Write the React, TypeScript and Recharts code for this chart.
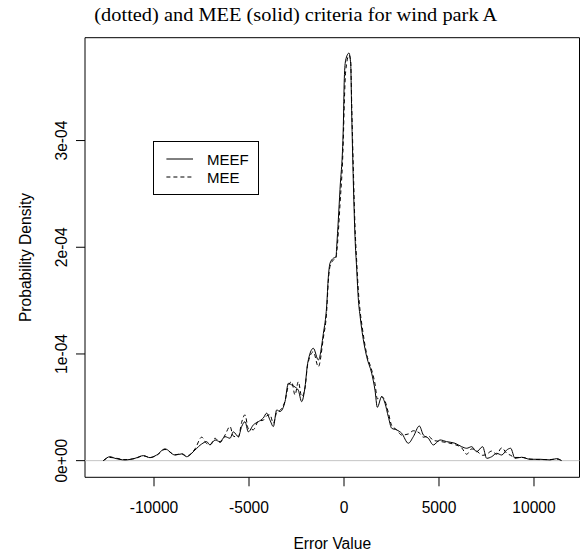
import React from 'react';
import { LineChart, Line, XAxis, YAxis, ReferenceLine, ReferenceArea, Legend } from 'recharts';

// Error value grid (x) shared by both density estimates
const errorValues = [
  -12668, -12316, -12053, -11526, -11000, -10561, -10210, -9860, -9421, -8895,
  -8544, -8280, -7842, -7491, -7228, -7053, -6789, -6526, -6263, -6000,
  -5825, -5561, -5386, -5210, -5035, -4772, -4509, -4246, -4070, -3895,
  -3719, -3544, -3368, -3105, -2930, -2754, -2579, -2404, -2228, -2053,
  -1912, -1614, -1351, -1088, -912, -825, -737, -563, -421, -384,
  -211, -37, 16, 89, 263, 351, 405, 490, 579, 667,
  760, 850, 960, 1193, 1456, 1632, 1754, 1982, 2158, 2333,
  2509, 2772, 3035, 3386, 3649, 3965, 4175, 4439, 4702, 5053,
  5404, 5842, 6193, 6456, 6719, 6982, 7298, 7509, 7772, 8035,
  8298, 8561, 8772, 9000, 9351, 9789, 10316, 10842, 11193, 11456,
];

// MEEF (solid) density, in units of 1e-04
const meefDensityE4 = [
  0, 0.037, 0.022, 0.007, 0.022, 0.047, 0.028, 0.053, 0.11, 0.053,
  0.063, 0.037, 0.1, 0.156, 0.178, 0.147, 0.194, 0.178, 0.225, 0.21,
  0.27, 0.225, 0.32, 0.365, 0.27, 0.335, 0.365, 0.4, 0.445, 0.38,
  0.32, 0.475, 0.46, 0.553, 0.725, 0.71, 0.69, 0.66, 0.553, 0.69,
  0.913, 1.053, 0.944, 1.19, 1.45, 1.72, 1.85, 1.897, 1.91, 2.006,
  2.54, 3.13, 3.58, 3.755, 3.82, 3.72, 3.256, 2.62, 2.1, 1.8,
  1.5, 1.35, 1.2, 0.975, 0.82, 0.66, 0.5, 0.6, 0.538, 0.412,
  0.304, 0.288, 0.257, 0.163, 0.225, 0.325, 0.241, 0.21, 0.147, 0.194,
  0.178, 0.163, 0.131, 0.116, 0.131, 0.084, 0.131, 0.022, 0.037, 0.069,
  0.053, 0.1, 0.116, 0.022, 0.032, 0.013, 0.013, 0.007, 0.019, 0,
];

// MEE (dashed) density, in units of 1e-04
const meeDensityE4 = [
  0, 0.03, 0.025, 0.01, 0.02, 0.045, 0.03, 0.05, 0.105, 0.055,
  0.065, 0.045, 0.11, 0.22, 0.16, 0.15, 0.21, 0.17, 0.24, 0.32,
  0.23, 0.22, 0.36, 0.43, 0.3, 0.29, 0.37, 0.38, 0.42, 0.43,
  0.35, 0.45, 0.47, 0.56, 0.7, 0.74, 0.616, 0.74, 0.6, 0.68,
  0.9, 1.02, 0.88, 1.15, 1.4, 1.68, 1.82, 1.88, 1.9, 1.95,
  2.4, 3.0, 3.35, 3.65, 3.8, 3.75, 3.35, 2.75, 2.2, 1.87,
  1.58, 1.4, 1.25, 1.0, 0.85, 0.72, 0.58, 0.6, 0.56, 0.45,
  0.33, 0.29, 0.24, 0.25, 0.28, 0.26, 0.22, 0.23, 0.19, 0.18,
  0.17, 0.15, 0.12, 0.06, 0.11, 0.09, 0.05, 0.06, 0.09, 0.06,
  0.12, 0.07, 0.05, 0.03, 0.03, 0.015, 0.01, 0.01, 0.015, 0,
];

const xTicks = [-10000, -5000, 0, 5000, 10000];
const yTicks = [0, 1e-4, 2e-4, 3e-4];
const yTickLabels = ['0e+00', '1e-04', '2e-04', '3e-04'];
const seriesNames = ['MEEF', 'MEE'];
const titleText = '(dotted) and MEE (solid) criteria for wind park A';
const xAxisTitle = 'Error Value';
const yAxisTitle = 'Probability Density';

const W = 581;
const H = 554;
const X_DOMAIN: [number, number] = [-13632, 12395];
const Y_DOMAIN: [number, number] = [-0.156e-4, 3.964e-4];
const SANS = '"Liberation Sans", Arial, Helvetica, sans-serif';
const SERIF = '"Liberation Serif", "Times New Roman", serif';
const FS = 15.6;

const XTick = (props: any) => {
  const { x, y, payload } = props;
  return (
    <text x={x} y={y + 25} textAnchor="middle" fontFamily={SANS} fontSize={FS} fill="#000">
      {String(payload.value)}
    </text>
  );
};

const YTick = (props: any) => {
  const { x, y, payload } = props;
  const idx = yTicks.findIndex((t) => Math.abs(t - payload.value) < 1e-9);
  const lx = x - 7;
  return (
    <text
      x={lx}
      y={y}
      transform={`rotate(-90 ${lx} ${y})`}
      textAnchor="middle"
      fontFamily={SANS}
      fontSize={FS}
      fill="#000"
    >
      {idx >= 0 ? yTickLabels[idx] : ''}
    </text>
  );
};

const XLabel = (props: any) => {
  const vb = props.viewBox || { x: 85, y: 477.3, width: 494.5, height: 76.7 };
  const bottomEdge = vb.height > 200 ? vb.y + vb.height : vb.y;
  const cx = vb.x + vb.width / 2;
  return (
    <text x={cx} y={bottomEdge + 71.5} textAnchor="middle" fontFamily={SANS} fontSize={FS} fill="#000">
      {xAxisTitle}
    </text>
  );
};

const YLabel = (props: any) => {
  const vb = props.viewBox || { x: 0, y: 37.7, width: 85, height: 439.6 };
  const leftEdge = vb.width > 200 ? vb.x - 85 : vb.x;
  const lx = leftEdge + 30.5;
  const ly = vb.y + vb.height / 2;
  return (
    <text
      x={lx}
      y={ly}
      transform={`rotate(-90 ${lx} ${ly})`}
      textAnchor="middle"
      fontFamily={SANS}
      fontSize={FS}
      fill="#000"
    >
      {yAxisTitle}
    </text>
  );
};

const LegendBox = () => (
  <svg width={106} height={54} style={{ display: 'block' }}>
    <rect x={0.5} y={0.5} width={105} height={53} fill="#fff" stroke="#000" strokeWidth={1} />
    <line x1={13.4} x2={40} y1={18} y2={18} stroke="#000" strokeWidth={1} />
    <line x1={13.4} x2={40} y1={36} y2={36} stroke="#000" strokeWidth={1} strokeDasharray="4 3" />
    <text x={54} y={18} dominantBaseline="central" fontFamily={SANS} fontSize={15} fill="#000">
      {seriesNames[0]}
    </text>
    <text x={54} y={36} dominantBaseline="central" fontFamily={SANS} fontSize={15} fill="#000">
      {seriesNames[1]}
    </text>
  </svg>
);

export default function App() {
  const meefData = errorValues.map((x, i) => ({ x, y: meefDensityE4[i] * 1e-4 }));
  const meeData = errorValues.map((x, i) => ({ x, y: meeDensityE4[i] * 1e-4 }));

  return (
    <div
      style={{
        position: 'absolute',
        left: 0,
        top: 0,
        width: W,
        height: H,
        overflow: 'hidden',
        background: '#fff',
      }}
    >
      <LineChart width={W} height={H} margin={{ top: 37.7, right: 1.5, bottom: 0, left: 0 }}>
        <XAxis
          type="number"
          dataKey="x"
          domain={X_DOMAIN}
          allowDataOverflow
          ticks={xTicks}
          interval={0}
          height={76.7}
          axisLine={false}
          stroke="#000"
          tickSize={9}
          tickLine={{ stroke: '#000' }}
          tick={<XTick />}
          label={{ content: XLabel }}
        />
        <YAxis
          type="number"
          dataKey="y"
          domain={Y_DOMAIN}
          allowDataOverflow
          ticks={yTicks}
          interval={0}
          width={85}
          axisLine={false}
          stroke="#000"
          tickSize={9}
          tickLine={{ stroke: '#000' }}
          tick={<YTick />}
          label={{ content: YLabel }}
        />
        <ReferenceLine y={0} stroke="#c4c4c4" strokeWidth={1} />
        <Line
          data={meeData}
          dataKey="y"
          name={seriesNames[1]}
          type="monotone"
          stroke="#000"
          strokeWidth={1}
          strokeDasharray="4 3"
          dot={false}
          activeDot={false}
          isAnimationActive={false}
        />
        <Line
          data={meefData}
          dataKey="y"
          name={seriesNames[0]}
          type="monotone"
          stroke="#000"
          strokeWidth={1}
          dot={false}
          activeDot={false}
          isAnimationActive={false}
        />
        <ReferenceArea
          x1={X_DOMAIN[0]}
          x2={X_DOMAIN[1]}
          y1={Y_DOMAIN[0]}
          y2={Y_DOMAIN[1]}
          ifOverflow="visible"
          fill="none"
          fillOpacity={0}
          stroke="#000"
          strokeWidth={1}
        />
        <Legend
          layout="horizontal"
          align="center"
          verticalAlign="middle"
          wrapperStyle={{ position: 'absolute', left: 153, top: 140.7, width: 106, height: 54, margin: 0, padding: 0 }}
          content={() => <LegendBox />}
        />
      </LineChart>
      <svg
        width={W}
        height={H}
        style={{ position: 'absolute', left: 0, top: 0, pointerEvents: 'none' }}
      >
        <text
          x={94.3}
          y={21}
          fontFamily={SERIF}
          fontSize={18}
          textLength={403}
          lengthAdjust="spacingAndGlyphs"
          fill="#000"
        >
          {titleText}
        </text>
      </svg>
    </div>
  );
}
